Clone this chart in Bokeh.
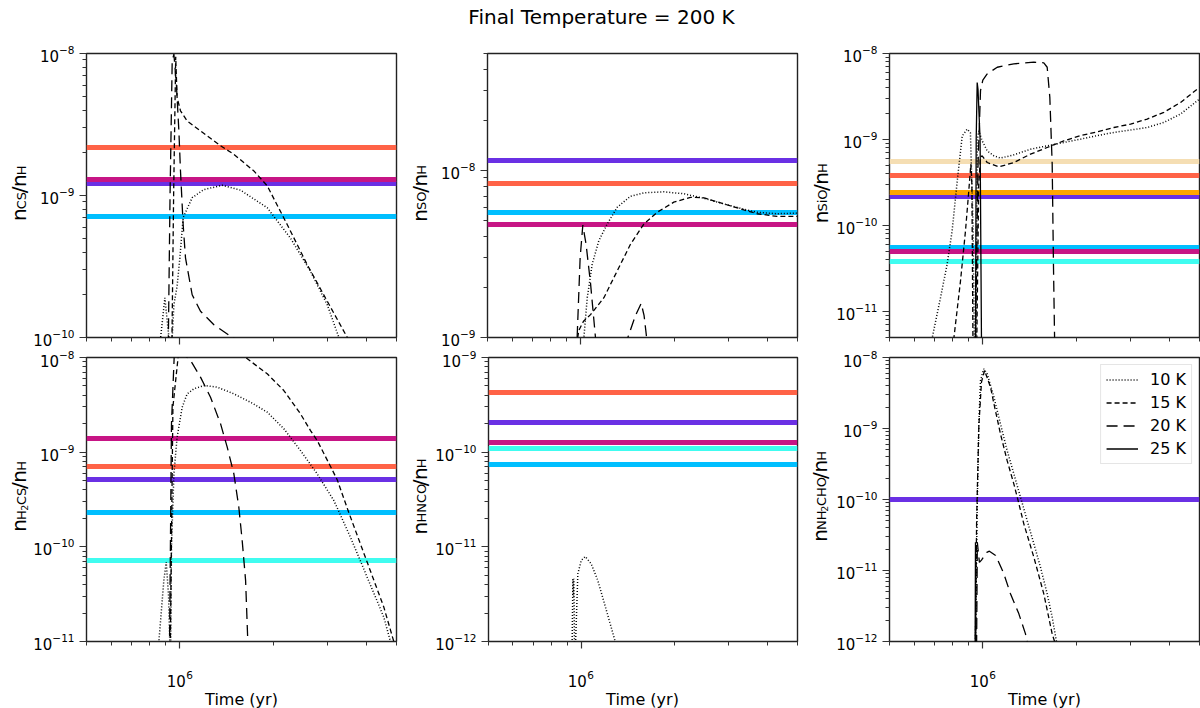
import numpy as np

from bokeh.core.properties import value
from bokeh.embed import file_html
from bokeh.layouts import column, row
from bokeh.models import (CustomJSTickFormatter, FixedTicker, Label, Legend,
                          LegendItem, LogTickFormatter)
from bokeh.plotting import figure
from bokeh.resources import INLINE

nan = np.nan

# ---------------- data ----------------
# observed abundances (horizontal bands), one list of values + source names per species
cs_obs = [2.18e-9, 1.30e-9, 1.21e-9, 7.1e-10]
cs_src = ["tomato", "magenta", "violet", "sky"]
so_obs = [1.14e-8, 8.3e-9, 5.56e-9, 4.75e-9]
so_src = ["violet", "tomato", "sky", "magenta"]
sio_obs = [5.5e-10, 3.85e-10, 2.41e-10, 2.15e-10, 5.5e-11, 5.04e-11, 3.79e-11]
sio_src = ["wheat", "tomato", "orange", "violet", "sky", "magenta", "cyan"]
h2cs_obs = [1.41e-9, 7.06e-10, 5.1e-10, 2.29e-10, 7.1e-11]
h2cs_src = ["magenta", "tomato", "violet", "sky", "cyan"]
hnco_obs = [4.3e-10, 2.06e-10, 1.25e-10, 1.1e-10, 7.4e-11]
hnco_src = ["tomato", "violet", "magenta", "cyan", "sky"]
nh2cho_obs = [1.0e-10]
nh2cho_src = ["violet"]

# model curves: time (yr) and abundance for each initial temperature
cs_t10 = [8.3e5, 8.67e5, 8.95e5, 9.2e5, 9.4e5, 9.57e5, 9.8e5, 1.0e6, 1.025e6, 1.096e6,
          1.195e6, 1.37e6, 1.57e6, 1.914e6, 2.276e6, 2.64e6, 2.99e6, 3.26e6, 3.6e6]
cs_n10 = [3e-11, 1.0e-10, 1.9e-10, 1.05e-10, 8e-11, 1.7e-10, 2.3e-10, 3.6e-10, 6.97e-10, 9.65e-10,
          1.1e-9, 1.18e-9, 1.09e-9, 8.2e-10, 5.0e-10, 2.92e-10, 1.7e-10, 1.0e-10, 6e-11]
cs_t15 = [9.4e5, 9.55e5, 9.7e5, 9.8e5, 1.005e6, 1.056e6, 1.166e6, 1.353e6, 1.494e6, 1.733e6,
          1.914e6, 2.22e6, 2.575e6, 2.99e6, 3.47e6, 3.8e6]
cs_n15 = [5e-11, 1e-9, 9.5e-9, 4.9e-9, 3.95e-9, 3.35e-9, 2.85e-9, 2.24e-9, 1.95e-9, 1.49e-9,
          1.17e-9, 6.25e-10, 3.26e-10, 1.8e-10, 1.0e-10, 6e-11]
cs_t20 = [9.15e5, 9.3e5, 9.45e5, 9.57e5, 9.75e5, 9.93e5, 1.005e6, 1.025e6, 1.043e6, 1.096e6,
          1.166e6, 1.288e6, 1.44e6, 1.6e6]
cs_n20 = [5e-11, 1e-9, 8.9e-9, 9.9e-9, 6e-9, 2.85e-9, 1.49e-9, 6.25e-10, 3.64e-10, 2.0e-10,
          1.53e-10, 1.23e-10, 1.04e-10, 9e-11]

so_t10 = [1.0e6, 1.023e6, 1.049e6, 1.088e6, 1.143e6, 1.216e6, 1.31e6, 1.446e6, 1.597e6, 1.853e6,
          2.15e6, 2.494e6, 2.893e6, 3.357e6, 3.705e6, 4.3e6, 5.0e6]
so_n10 = [7e-10, 1.0e-9, 1.73e-9, 2.74e-9, 3.79e-9, 4.77e-9, 6.01e-9, 7.0e-9, 7.34e-9, 7.44e-9,
          7.24e-9, 6.81e-9, 6.3e-9, 5.85e-9, 5.61e-9, 5.5e-9, 5.55e-9]
so_t15 = [9.6e5, 9.85e5, 1.02e6, 1.075e6, 1.187e6, 1.31e6, 1.446e6, 1.597e6, 1.763e6, 1.995e6,
          2.259e6, 2.494e6, 2.893e6, 3.357e6, 3.705e6, 4.3e6, 5.0e6]
so_n15 = [8e-10, 1.1e-9, 1.25e-9, 1.37e-9, 1.73e-9, 2.5e-9, 3.61e-9, 4.77e-9, 5.61e-9, 6.45e-9,
          6.9e-9, 6.85e-9, 6.3e-9, 5.8e-9, 5.5e-9, 5.3e-9, 5.3e-9]
so_t20 = [9.5e5, 9.73e5, 9.95e5, 1.015e6, 1.04e6, 1.075e6, 1.115e6, 1.14e6, nan,
          1.39e6, 1.418e6, 1.5e6, 1.566e6, 1.6e6, 1.63e6, 1.66e6]
so_n20 = [5e-10, 1e-9, 3.0e-9, 4.7e-9, 3.6e-9, 2.1e-9, 1.0e-9, 7e-10, nan,
          7e-10, 1e-9, 1.35e-9, 1.6e-9, 1.35e-9, 1e-9, 7e-10]

sio_t10 = [6.5e5, 6.87e5, 7.3e5, 7.67e5, 7.96e5, 8.27e5, 8.58e5, 8.9e5, 9.12e5, 9.3e5, 9.4e5, nan,
           9.5e5, 9.6e5, 9.71e5, 9.95e5, 1.033e6, 1.086e6, 1.14e6, 1.259e6, 1.425e6, 1.613e6,
           1.825e6, 2.066e6, 2.338e6, 2.647e6, 2.996e6, 3.39e6, 3.837e6, 4.345e6, 5.0e6]
sio_n10 = [2e-12, 5e-12, 1.44e-11, 3.53e-11, 8.63e-11, 3.3e-10, 1.1e-9, 1.32e-9, 1.2e-9, 1e-10, 3e-12, nan,
           3e-12, 1.0e-9, 1.26e-9, 9.67e-10, 7.39e-10, 6.47e-10, 6.08e-10, 6.64e-10, 7.72e-10, 8.45e-10,
           9.25e-10, 1.01e-9, 1.11e-9, 1.21e-9, 1.29e-9, 1.38e-9, 1.58e-9, 1.98e-9, 2.96e-9]
sio_t15 = [7.8e5, 8.07e5, 8.47e5, 8.79e5, 9.01e5, 9.15e5, 9.22e5, 9.3e5, nan,
           9.55e5, 9.7e5, 9.83e5, 9.95e5, 1.033e6, 1.127e6, 1.259e6, 1.425e6, 1.613e6,
           1.825e6, 2.066e6, 2.338e6, 2.647e6, 2.996e6, 3.39e6, 3.837e6, 4.345e6, 5.0e6]
sio_n15 = [2e-12, 5e-12, 2.25e-11, 8.6e-11, 2.52e-10, 5.2e-10, 3e-10, 3e-12, nan,
           3e-12, 3e-10, 6.2e-10, 6.47e-10, 5.41e-10, 4.81e-10, 5.41e-10, 6.76e-10, 8.08e-10,
           9.67e-10, 1.11e-9, 1.23e-9, 1.38e-9, 1.51e-9, 1.73e-9, 2.07e-9, 2.7e-9, 4.05e-9]
sio_t20 = [9.3e5, 9.47e5, 9.65e5, 9.83e5, 1.0e6, 1.033e6, 1.113e6, 1.259e6, 1.461e6, 1.573e6,
           1.613e6, 1.645e6, 1.674e6, 1.69e6, 1.704e6, 1.72e6]
sio_n20 = [2e-12, 5e-12, 5e-10, 3.7e-9, 4.9e-9, 5.79e-9, 6.92e-9, 7.58e-9, 7.92e-9, 7.8e-9,
           6.92e-9, 3.09e-9, 5.18e-10, 3.5e-11, 5e-12, 2e-12]
sio_t25 = [9.4e5, 9.47e5, 9.52e5, 9.59e5, 9.65e5, 9.8e5, 9.9e5, 9.95e5]
sio_n25 = [2e-12, 5e-12, 1e-9, 4.6e-9, 3.8e-9, 1e-9, 5e-12, 2e-12]

h2cs_t10 = [8.3e5, 8.56e5, 8.88e5, 9.04e5, 9.2e5, 9.33e5, 9.4e5, 9.57e5, 9.8e5, 1.018e6, 1.056e6,
            1.11e6, 1.195e6, 1.32e6, 1.494e6, 1.69e6, 1.914e6, 2.165e6, 2.45e6, 2.774e6, 3.14e6,
            3.55e6, 4.02e6, 4.55e6, 4.78e6, 5.0e6]
h2cs_n10 = [5e-12, 1e-11, 4.4e-11, 6.9e-11, 3e-11, 5e-12, 1e-10, 5.9e-10, 1.44e-9, 2.99e-9, 4.13e-9,
            4.67e-9, 5.06e-9, 4.86e-9, 4.13e-9, 3.37e-9, 2.65e-9, 1.77e-9, 1.04e-9, 5.9e-10, 3.08e-10,
            1.27e-10, 4.79e-11, 1.81e-11, 1e-11, 6e-12]
h2cs_t15 = [9.3e5, 9.5e5, 1.0e6, 1.2e6, 1.4e6, 1.63e6, 1.914e6, 2.165e6, 2.45e6, 2.64e6, 2.774e6,
            3.063e6, 3.22e6, 3.51e6, 4.02e6, 4.55e6, 4.9e6, 5.2e6]
h2cs_n15 = [5e-12, 3e-9, 1.5e-8, 2.0e-8, 1.5e-8, 1e-8, 6.73e-9, 4.48e-9, 2.54e-9, 1.69e-9, 1.33e-9,
            7.06e-10, 5.1e-10, 2.29e-10, 6.9e-11, 2.31e-11, 1e-11, 6e-12]
h2cs_t20 = [9.25e5, 9.4e5, 9.6e5, 1.0e6, 1.056e6, 1.083e6, 1.166e6, 1.256e6, 1.353e6, 1.422e6,
            1.494e6, 1.55e6, 1.589e6, 1.63e6, 1.657e6, 1.7e6]
h2cs_n20 = [5e-12, 2e-9, 1.1e-8, 1.2e-8, 1e-8, 9.3e-9, 6.2e-9, 3.81e-9, 2.0e-9, 1.13e-9,
            5.9e-10, 2.62e-10, 1.17e-10, 4.42e-11, 1e-11, 3e-12]

hnco_t10 = [9.3e5, 9.38e5, 9.42e5, 9.45e5, 9.5e5, nan, 9.52e5, 9.57e5, 9.73e5, 9.98e5, 1.028e6,
            1.075e6, 1.129e6, 1.187e6, 1.247e6, 1.285e6, 1.33e6]
hnco_n10 = [5e-13, 4.6e-12, 3e-12, 4.6e-12, 5e-13, nan, 5e-13, 1e-12, 5.19e-12, 7.18e-12, 7.9e-12,
            6.62e-12, 4.41e-12, 2.5e-12, 1.42e-12, 1e-12, 6e-13]

nh2cho_t10 = [9.4e5, 9.47e5, 9.59e5, 9.71e5, 9.83e5, 1.007e6, 1.033e6, 1.086e6, 1.14e6, 1.198e6,
              1.259e6, 1.323e6, 1.39e6, 1.461e6, 1.535e6, 1.613e6, 1.674e6, 1.728e6, 1.76e6]
nh2cho_n10 = [5e-13, 1e-12, 7.8e-11, 1.16e-9, 4.74e-9, 6.92e-9, 5.89e-9, 2.76e-9, 1.16e-9, 4.9e-10,
              2.3e-10, 1.08e-10, 5.06e-11, 2.38e-11, 1.11e-11, 4.69e-12, 2.2e-12, 1e-12, 6e-13]
nh2cho_t15 = [9.45e5, 9.55e5, 9.71e5, 9.9e5, 1.013e6, 1.059e6, 1.086e6, 1.14e6, 1.198e6, 1.259e6,
              1.297e6, 1.356e6, 1.461e6, 1.573e6, 1.674e6, 1.704e6, 1.74e6]
nh2cho_n15 = [5e-13, 5e-11, 1.1e-9, 4.5e-9, 6.56e-9, 3.82e-9, 2.23e-9, 8.42e-10, 3.54e-10, 1.66e-10,
              1e-10, 4.54e-11, 1.54e-11, 4.69e-12, 1.28e-12, 1e-12, 6e-13]
nh2cho_t20 = [9.45e5, 9.55e5, 9.6e5, 9.75e5, 9.9e5, 1.03e6, 1.05e6, 1.1e6, 1.169e6, 1.228e6,
              1.307e6, 1.373e6, 1.39e6, 1.42e6]
nh2cho_n20 = [5e-13, 1e-12, 2.5e-11, 1.3e-11, 1.4e-11, 1.8e-11, 1.87e-11, 1.63e-11, 9e-12, 4.7e-12,
              2.45e-12, 1.28e-12, 1e-12, 7e-13]
nh2cho_t25 = [9.44e5, 9.47e5, 9.5e5]
nh2cho_n25 = [5e-13, 2.5e-11, 5e-13]

temps = [10, 15, 20, 25]

# ---------------- styling / layout ----------------
FONT = "DejaVu Sans"
COLORS = {"tomato": "#ff6347", "magenta": "#c71585", "violet": "#6a30e4", "sky": "#00bfff",
          "cyan": "#40fcf0", "wheat": "#f5deb3", "orange": "#ffa500"}
ORDER = ["violet", "sky", "cyan", "wheat", "tomato", "orange", "magenta"]
DASH = {10: "1 2", 15: "5 3", 20: "11 6", 25: "solid"}
WIDTH = {10: 1.5, 15: 1.3, 20: 1.3, 25: 1.3}
T_RANGE = (5e5, 5e6)
TOTAL_W = 1200
FRAME_W = 310
FRAME_LEFT = [86, 487, 889]     # x of each column's frame
ROW1_H, ROW2_H = 306, 304       # frames y 53..337 and 357..641

# glyph advance widths (em) used to stack the rotated label pieces
EM = {"n": 0.634, "/": 0.337, "C": 0.698, "S": 0.635, "O": 0.787, "H": 0.752,
      "i": 0.278, "N": 0.748, "2": 0.636}
SIZE = {0: 20, 1: 13, 2: 9.5}
DROP = {0: 0, 1: 2, 2: 5}


def blank(w, h):
    s = figure(width=w, height=h, x_range=(0, w), y_range=(0, h), min_border=0,
               x_axis_location=None, y_axis_location=None, toolbar_location=None,
               output_backend="svg", outline_line_color=None)
    s.grid.visible = False
    return s


def label_strip(w, h, yc, xb, parts):
    # rotated y-axis label "n_X/n_H" built from pieces, in its own strip left of the panel
    s = blank(w, h)
    lengths = [sum(EM[c] for c in txt) * SIZE[lvl] for txt, lvl in parts]
    y = yc - sum(lengths) / 2
    for (txt, lvl), ln in zip(parts, lengths):
        s.text(x=[xb + DROP[lvl]], y=[y], text=[txt], angle=np.pi / 2,
               text_font=value(FONT), text_font_size=f"{SIZE[lvl]}px",
               text_baseline="alphabetic", text_align="left", text_color="black")
        y += ln
    return s


def log_ticks(lo, hi):
    k0 = int(np.floor(np.log10(lo) + 1e-9))
    k1 = int(np.ceil(np.log10(hi) - 1e-9))
    major = [10.0 ** k for k in range(k0, k1 + 1) if lo * 0.999 <= 10.0 ** k <= hi * 1.001]
    minor = [m * 10.0 ** k for k in range(k0, k1 + 1) for m in range(2, 10)
             if lo * 0.999 <= m * 10.0 ** k <= hi * 1.001]
    return major, minor


def panel(w, left, right, top_row, ylim, obs, src, curves):
    h, top, bottom = (ROW1_H, 9, 13) if top_row else (ROW2_H, 7, 13)
    p = figure(width=w, height=h, x_axis_type="log", y_axis_type="log",
               x_range=T_RANGE, y_range=ylim, output_backend="svg", toolbar_location=None,
               min_border_left=left, min_border_right=right,
               min_border_top=top, min_border_bottom=bottom,
               background_fill_color="white", border_fill_color="white")
    p.grid.visible = False
    p.outline_line_color = "#222222"
    p.outline_line_width = 1.4

    major, minor = log_ticks(*ylim)
    p.yaxis.ticker = FixedTicker(ticks=major, minor_ticks=minor)
    p.xaxis.ticker = FixedTicker(ticks=[1e6], minor_ticks=[5e5, 6e5, 7e5, 8e5, 9e5, 2e6, 3e6, 4e6, 5e6])
    p.yaxis.formatter = LogTickFormatter()
    for ax in (p.xaxis, p.yaxis):
        ax.axis_line_color = None
        ax.major_tick_in = 0
        ax.minor_tick_in = 0
        ax.major_tick_out = 7
        ax.minor_tick_out = 4
        ax.major_tick_line_color = "#333333"
        ax.minor_tick_line_color = "#333333"
        ax.major_tick_line_width = 1.2
        ax.minor_tick_line_width = 1.0
        ax.major_label_text_font = FONT
        ax.major_label_text_font_size = "15px"
        ax.major_label_text_color = "black"
    p.yaxis.major_label_standoff = 5
    # x tick labels of the bottom row are written in the footer strip
    p.xaxis.formatter = CustomJSTickFormatter(code="return ''")
    p.xaxis.major_label_text_font_size = "0px"
    p.xaxis.major_label_standoff = 0

    # observed bands first, model curves on top
    order = sorted(range(len(obs)), key=lambda i: ORDER.index(src[i]))
    p.hspan(y=[obs[i] for i in order], line_color=[COLORS[src[i]] for i in order], line_width=5)

    rend = {}
    for k, (t, n) in curves.items():
        rend[k] = p.line(t, n, line_color="black", line_width=WIDTH[k], line_dash=DASH[k])
    return p, rend


# top row
f1, _ = panel(368, 56, 2, True, (1e-10, 1e-8), cs_obs, cs_src,
              {10: (cs_t10, cs_n10), 15: (cs_t15, cs_n15), 20: (cs_t20, cs_n20)})
f2, _ = panel(367, 55, 2, True, (1e-9, 5e-8), so_obs, so_src,
              {10: (so_t10, so_n10), 15: (so_t15, so_n15), 20: (so_t20, so_n20)})
f3, _ = panel(367, 56, 1, True, (5e-12, 1e-8), sio_obs, sio_src,
              {10: (sio_t10, sio_n10), 15: (sio_t15, sio_n15), 20: (sio_t20, sio_n20),
               25: (sio_t25, sio_n25)})
s1 = label_strip(30, ROW1_H, 155, 18.5, [("n", 0), ("CS", 1), ("/", 0), ("n", 0), ("H", 1)])
s2 = label_strip(34, ROW1_H, 155, 21, [("n", 0), ("SO", 1), ("/", 0), ("n", 0), ("H", 1)])
s3 = label_strip(34, ROW1_H, 155, 21, [("n", 0), ("SiO", 1), ("/", 0), ("n", 0), ("H", 1)])

# bottom row
f4, _ = panel(368, 56, 2, False, (1e-11, 1e-8), h2cs_obs, h2cs_src,
              {10: (h2cs_t10, h2cs_n10), 15: (h2cs_t15, h2cs_n15), 20: (h2cs_t20, h2cs_n20)})
f5, _ = panel(367, 55, 2, False, (1e-12, 1e-9), hnco_obs, hnco_src,
              {10: (hnco_t10, hnco_n10)})
f6, r6 = panel(367, 56, 1, False, (1e-12, 1e-8), nh2cho_obs, nh2cho_src,
               {10: (nh2cho_t10, nh2cho_n10), 15: (nh2cho_t15, nh2cho_n15),
                20: (nh2cho_t20, nh2cho_n20), 25: (nh2cho_t25, nh2cho_n25)})
s4 = label_strip(30, ROW2_H, 155, 18.5, [("n", 0), ("H", 1), ("2", 2), ("CS", 1), ("/", 0), ("n", 0), ("H", 1)])
s5 = label_strip(34, ROW2_H, 155, 21, [("n", 0), ("HNCO", 1), ("/", 0), ("n", 0), ("H", 1)])
s6 = label_strip(34, ROW2_H, 155, 20, [("n", 0), ("NH", 1), ("2", 2), ("CHO", 1), ("/", 0), ("n", 0), ("H", 1)])

legend = Legend(items=[LegendItem(label=f"{k} K", renderers=[r6[k]]) for k in temps],
                location="top_right", margin=7, padding=5, spacing=4,
                glyph_width=32, glyph_height=19, label_height=19, label_standoff=12,
                label_text_font=FONT, label_text_font_size="16px", label_text_color="black",
                border_line_color="#cccccc", border_line_width=1,
                background_fill_color="white", background_fill_alpha=0.8)
f6.add_layout(legend)

head = blank(TOTAL_W, 44)
head.add_layout(Label(x=601, y=28, text="Final Temperature = 200 K", text_align="center",
                      text_baseline="alphabetic", text_font=FONT, text_font_size="20px",
                      text_color="black"))

# footer (y 654..708): "10^6" under each major tick and the x-axis titles
tick_px = [fl + FRAME_W * np.log10(1e6 / T_RANGE[0]) for fl in FRAME_LEFT]
foot = blank(TOTAL_W, 54)
foot.text(x=[t - 13 for t in tick_px], y=[28] * 3, text=["10"] * 3, text_align="left",
          text_baseline="alphabetic", text_font=value(FONT), text_font_size="15px",
          text_color="black")
foot.text(x=[t + 6.5 for t in tick_px], y=[34] * 3, text=["6"] * 3, text_align="left",
          text_baseline="alphabetic", text_font=value(FONT), text_font_size="10.5px",
          text_color="black")
foot.text(x=[fl + FRAME_W / 2 for fl in FRAME_LEFT], y=[9] * 3, text=["Time (yr)"] * 3,
          text_align="center", text_baseline="alphabetic", text_font=value(FONT),
          text_font_size="16px", text_color="black")

layout = column(head, row(s1, f1, s2, f2, s3, f3), row(s4, f4, s5, f5, s6, f6), foot)

open("out.html", "w").write(file_html(layout, INLINE))
